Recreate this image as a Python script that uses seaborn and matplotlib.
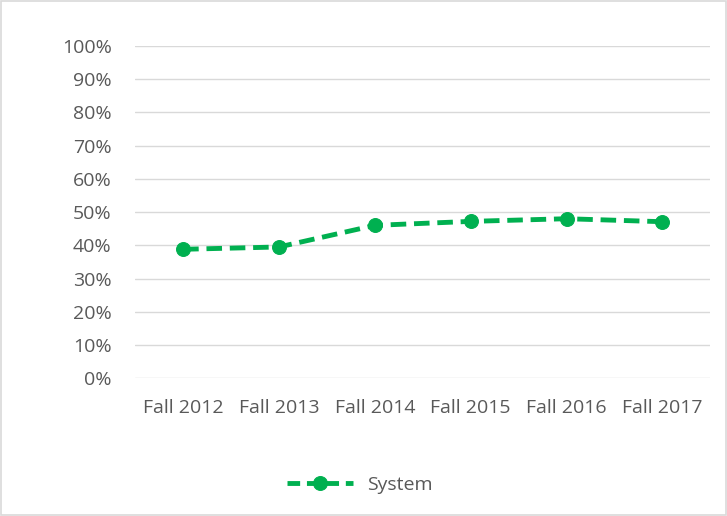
import matplotlib
matplotlib.use("Agg")
import matplotlib.pyplot as plt
import seaborn as sns
import pandas as pd
from matplotlib.ticker import PercentFormatter
from matplotlib.patches import Rectangle

categories = ["Fall 2012", "Fall 2013", "Fall 2014", "Fall 2015", "Fall 2016", "Fall 2017"]
system_values = [0.388, 0.395, 0.460, 0.472, 0.480, 0.471]
series_name = "System"

df = pd.DataFrame({"term": categories, "value": system_values, "series": series_name})

sns.set_theme(style="white")
plt.rcParams["font.family"] = ["Open Sans", "DejaVu Sans"]

fig = plt.figure(figsize=(7.27, 5.16), dpi=100)
ax = fig.add_axes([0.186, 0.267, 0.791, 0.644])

green = "#00B050"
sns.lineplot(data=df, x="term", y="value", hue="series", palette=[green],
             marker="o", markersize=10, linewidth=3.5, dashes=False, ax=ax,
             sort=False)
for ln in ax.get_lines():
    ln.set_linestyle((0, (3.2, 1.6)))
    ln.set_markeredgecolor(green)

ax.set_ylim(0, 1)
ax.set_xlim(-0.5, 5.5)
ax.set_yticks([i / 10 for i in range(11)])
ax.yaxis.set_major_formatter(PercentFormatter(1.0, decimals=0))
ax.grid(axis="y", color="#D9D9D9", linewidth=1)
ax.set_axisbelow(True)
for s in ax.spines.values():
    s.set_visible(False)
ax.tick_params(axis="both", length=0, labelsize=14, labelcolor="#595959")
ax.tick_params(axis="y", pad=17)
ax.tick_params(axis="x", pad=15)
ax.set_xlabel("")
ax.set_ylabel("")

handles, labels = ax.get_legend_handles_labels()
ax.get_legend().remove()
leg = fig.legend(handles, labels, loc="center", bbox_to_anchor=(0.495, 0.06),
                 frameon=False, fontsize=14, handlelength=3.4, handletextpad=0.7)
for t in leg.get_texts():
    t.set_color("#595959")
for h in leg.legend_handles:
    h.set_linestyle((0, (2.6, 1.4)))

fig.patches.append(Rectangle((0.002, 0.002), 0.996, 0.996, transform=fig.transFigure,
                             fill=False, edgecolor="#D9D9D9", linewidth=1.2))

fig.savefig("out.png", dpi=100)
